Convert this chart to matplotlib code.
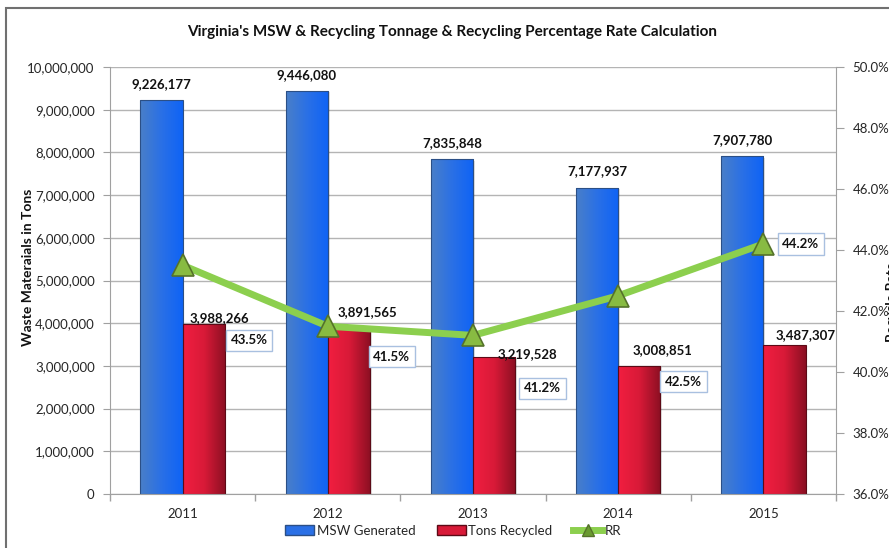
import numpy as np
import matplotlib
matplotlib.use("Agg")
import matplotlib.pyplot as plt
from matplotlib.colors import LinearSegmentedColormap
from matplotlib.patches import Rectangle, Patch
from matplotlib.lines import Line2D
from matplotlib.ticker import FuncFormatter, MultipleLocator

# ---- data ----
years = ["2011", "2012", "2013", "2014", "2015"]
msw_generated = [9226177, 9446080, 7835848, 7177937, 7907780]
tons_recycled = [3988266, 3891565, 3219528, 3008851, 3487307]
recycle_rate = [43.5, 41.5, 41.2, 42.5, 44.2]

title = "Virginia's MSW & Recycling Tonnage & Recycling Percentage Rate Calculation"

# ---- label offsets (points) ----
red_label_off = [(11, 4), (13, 11), (24, 2), (17, 11), (15, 7)]
pct_label_off = [(48, -54), (46, -22), (50, -38), (47, -62), (27, 0)]

plt.rcParams['font.family'] = ['Lato', 'DejaVu Sans']
TXT = '#262626'

fig = plt.figure(figsize=(8.89, 5.48), dpi=100)
ax = fig.add_axes([110/889, 1-494/548, (836-110)/889, (494-67)/548])
ax2 = ax.twinx()

x = np.arange(len(years))
w = 0.29

blue_cmap = LinearSegmentedColormap.from_list('b', ['#4a7fc8', '#2a70e6', '#0e63f6'])
red_cmap = LinearSegmentedColormap.from_list('r', ['#f21e40', '#d81a38', '#8a0f22'])

b1 = ax.bar(x - w/2, msw_generated, w, color='#2a70e6', zorder=2)
b2 = ax.bar(x + w/2, tons_recycled, w, color='#d81a38', zorder=2)

grad = np.linspace(0, 1, 256).reshape(1, -1)
for bars, cmap, ec in [(b1, blue_cmap, '#2b4f86'), (b2, red_cmap, '#5c0a16')]:
    for r in bars:
        x0, h, bw = r.get_x(), r.get_height(), r.get_width()
        # soft shadow
        ax.add_patch(Rectangle((x0 + 0.012, 0), bw, h - 40000, facecolor='#000000',
                               alpha=0.12, zorder=1.5, linewidth=0))
        im = ax.imshow(grad, extent=[x0, x0 + bw, 0, h], aspect='auto', cmap=cmap,
                       zorder=2.1, interpolation='bicubic')
        im.set_clip_path(r)
        ax.add_patch(Rectangle((x0, 0), bw, h, fill=False, edgecolor=ec,
                               linewidth=0.8, zorder=2.2))

ax.set_xlim(-0.5, len(years) - 0.5)
ax.set_ylim(0, 10000000)
ax.yaxis.set_major_locator(MultipleLocator(1000000))
ax.yaxis.set_major_formatter(FuncFormatter(lambda v, p: f"{int(v):,}"))
ax.grid(axis='y', color='#b4b4b4', linewidth=1.0, zorder=0)
ax.set_axisbelow(True)

ax.set_xticks(x)
ax.set_xticklabels(years)
ax.set_xticks(np.arange(len(years) + 1) - 0.5, minor=True)
ax.tick_params(axis='x', which='major', length=0, pad=10, labelsize=9.5, labelcolor=TXT)
ax.tick_params(axis='x', which='minor', length=5, color='#a0a0a0', width=1)
ax.tick_params(axis='y', length=5, color='#a0a0a0', labelsize=9.5, labelcolor=TXT, pad=6)

for sp in ['top']:
    ax.spines[sp].set_visible(False)
    ax2.spines[sp].set_visible(False)
for sp in ['left', 'bottom', 'right']:
    ax.spines[sp].set_color('#a0a0a0')
    ax2.spines[sp].set_color('#a0a0a0')
ax.spines['right'].set_visible(False)
ax2.spines['left'].set_visible(False)
ax2.spines['bottom'].set_visible(False)

ax.set_ylabel("Waste Materaials in Tons", fontsize=10, fontweight='bold', color='#111111')
ax.yaxis.set_label_coords(-0.105, 0.53)

# value labels
for r, v in zip(b1, msw_generated):
    ax.annotate(f"{v:,}", (r.get_x() + r.get_width()/2, v), xytext=(0, 11.5),
                textcoords='offset points', ha='center', va='center',
                fontsize=9.5, fontweight='bold', color='#111111', zorder=5)
for r, v, off in zip(b2, tons_recycled, red_label_off):
    ax.annotate(f"{v:,}", (r.get_x() + r.get_width()/2, v), xytext=off,
                textcoords='offset points', ha='center', va='center',
                fontsize=9.5, fontweight='bold', color='#111111', zorder=5)

# recycle rate line
ax2.plot(x, recycle_rate, color='#8ccf4e', linewidth=5, marker='^', markersize=16,
         markerfacecolor='#88bb42', markeredgecolor='#55722a', markeredgewidth=1.2,
         zorder=4, solid_capstyle='butt')
ax2.set_ylim(36, 50)
ax2.yaxis.set_major_locator(MultipleLocator(2))
ax2.yaxis.set_major_formatter(FuncFormatter(lambda v, p: f"{v:.1f}%"))
ax2.tick_params(axis='y', length=6, color='#a0a0a0', labelsize=9.5, labelcolor=TXT, pad=6)
ax2.set_ylabel("Recycle Rate", fontsize=10, fontweight='bold', color='#111111', rotation=90)
ax2.yaxis.set_label_coords(1.069, 0.45)

for xi, v, off in zip(x, recycle_rate, pct_label_off):
    ax2.annotate(f"{v:.1f}%", (xi, v), xytext=off, textcoords='offset points',
                 ha='center', va='center', fontsize=9.5, fontweight='bold', color='#111111',
                 bbox=dict(boxstyle='square,pad=0.35', facecolor='white',
                           edgecolor='#a9c0e0', linewidth=1.0), zorder=6)

fig.text(0.508, 1 - 32/548, title, ha='center', va='center', fontsize=11,
         fontweight='bold', color='#111111')

handles = [Patch(facecolor='#2a70e6', edgecolor='#2b4f86'),
           Patch(facecolor='#d81a38', edgecolor='#5c0a16'),
           Line2D([0], [0], color='#8ccf4e', linewidth=5, marker='^', markersize=9,
                  markerfacecolor='#6a9a30', markeredgecolor='#55722a')]
fig.legend(handles, ["MSW Generated", "Tons Recycled", "RR"], loc='center',
           bbox_to_anchor=(0.51, 1 - 531/548), ncol=3, frameon=False, fontsize=9.5,
           handlelength=2.2, handletextpad=0.2, columnspacing=1.6, handleheight=0.8,
           labelcolor=TXT)

fig.add_artist(Rectangle((6/889, -0.05), 1.1, 1 - 8/548 + 0.05, transform=fig.transFigure,
                         fill=False, edgecolor='#707070', linewidth=1.5))

fig.savefig("out.png", dpi=100)
